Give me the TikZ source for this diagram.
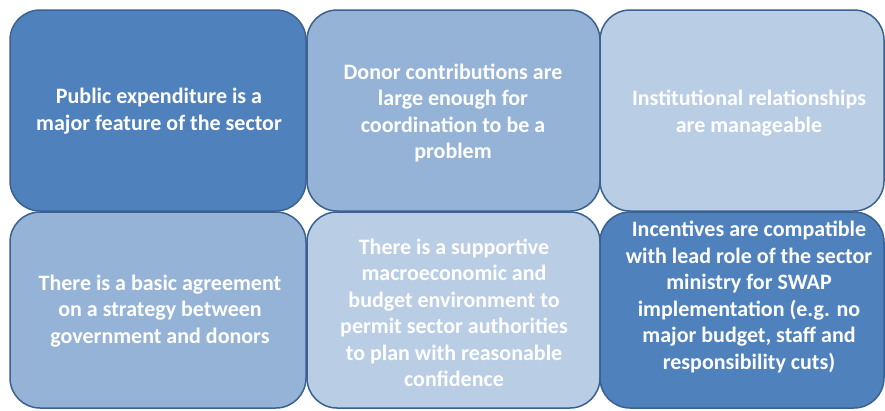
\documentclass[tikz,border=0pt]{standalone}
\usepackage{fontspec}
\setmainfont{Carlito}
\definecolor{dark}{HTML}{4F81BD}
\definecolor{mid}{HTML}{95B3D7}
\definecolor{light}{HTML}{B9CDE5}
\definecolor{edge}{HTML}{3A6190}
\begin{document}
\begin{tikzpicture}[x=1pt,y=-1pt,
  cell/.style={draw=edge, line width=1.5pt, rounded corners=30pt, inner sep=0pt},
  label/.style={text=white, font=\fontsize{22}{26.5}\selectfont\bfseries, align=center, inner sep=0pt}]
\useasboundingbox (0,0) rectangle (885,410);
\draw[cell, fill=dark]  (10,10)   rectangle (306,211) coordinate (b1);
\draw[cell, fill=mid]   (307,10)  rectangle (600,211) coordinate (b2);
\draw[cell, fill=light] (600,10)  rectangle (884,211) coordinate (b3);
\draw[cell, fill=mid]   (10,212)  rectangle (306,408) coordinate (b4);
\draw[cell, fill=light] (307,212) rectangle (600,408) coordinate (b5);
\draw[cell, fill=dark]  (600,212) rectangle (884,408) coordinate (b6);
\node[label] (t1) at (159,111) {Public expenditure is a\\major feature of the sector};
\node[label] (t2) at (453,113) {Donor contributions are\\large enough for\\coordination to be a\\problem};
\node[label] (t3) at (749,113) {Institutional relationships\\are manageable};
\node[label] (t4) at (160,311) {There is a basic agreement\\on a strategy between\\government and donors};
\node[label] (t5) at (454,313) {There is a supportive\\macroeconomic and\\budget environment to\\permit sector authorities\\to plan with reasonable\\confidence};
\node[label] (t6) at (749,297) {Incentives are compatible\\with lead role of the sector\\ministry for SWAP\\implementation (e.g. no\\major budget, staff and\\responsibility cuts)};
\end{tikzpicture}
\end{document}
